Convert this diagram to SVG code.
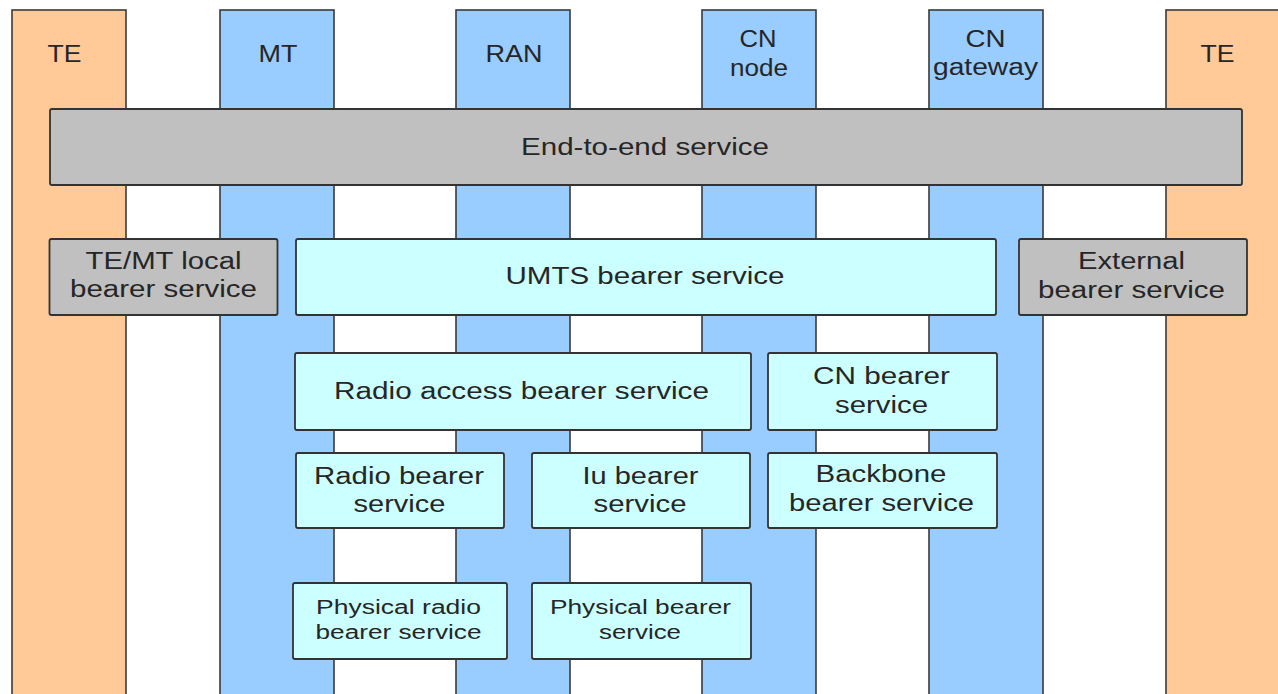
<svg xmlns="http://www.w3.org/2000/svg" width="1278" height="694" viewBox="0 0 1278 694">
  <style>
    .lane { stroke: #3a3a3a; stroke-width: 1.6; }
    .te { fill: #FFCA98; }
    .ne { fill: #99CCFF; }
    .box { stroke: #333333; stroke-width: 1.8; }
    .grey { fill: #C0C0C0; }
    .cyan { fill: #CCFFFF; }
    text { font-family: "Liberation Sans", Arial, sans-serif; fill: #262626; text-anchor: middle; }
    .hd { font-size: 23px; }
    .lb { font-size: 23px; }
    .sm { font-size: 20px; }
  </style>
  <rect width="1278" height="694" fill="#ffffff"/>

  <!-- network element lanes -->
  <g id="lane-te-left">
    <rect class="lane te" x="12" y="10" width="114" height="700"/>
    <text class="hd" x="64.5" y="62" textLength="34" lengthAdjust="spacingAndGlyphs">TE</text>
  </g>
  <g id="lane-mt">
    <rect class="lane ne" x="220" y="10" width="114" height="700"/>
    <text class="hd" x="278" y="62" textLength="39" lengthAdjust="spacingAndGlyphs">MT</text>
  </g>
  <g id="lane-ran">
    <rect class="lane ne" x="456" y="10" width="114" height="700"/>
    <text class="hd" x="514" y="62" textLength="57" lengthAdjust="spacingAndGlyphs">RAN</text>
  </g>
  <g id="lane-cn-node">
    <rect class="lane ne" x="702" y="10" width="114" height="700"/>
    <text class="hd" x="758" y="47" textLength="37" lengthAdjust="spacingAndGlyphs">CN</text>
    <text class="hd" x="759" y="76" textLength="58" lengthAdjust="spacingAndGlyphs">node</text>
  </g>
  <g id="lane-cn-gateway">
    <rect class="lane ne" x="929" y="10" width="114" height="700"/>
    <text class="hd" x="985.5" y="47" textLength="40" lengthAdjust="spacingAndGlyphs">CN</text>
    <text class="hd" x="985.5" y="75" textLength="105" lengthAdjust="spacingAndGlyphs">gateway</text>
  </g>
  <g id="lane-te-right">
    <rect class="lane te" x="1166" y="10" width="114" height="700"/>
    <text class="hd" x="1217.5" y="61.5" textLength="34" lengthAdjust="spacingAndGlyphs">TE</text>
  </g>

  <!-- bearer service layers -->
  <g id="end-to-end">
    <rect class="box grey" x="50" y="109" width="1192" height="76" rx="2"/>
    <text class="lb" x="645" y="154.5" textLength="248" lengthAdjust="spacingAndGlyphs">End-to-end service</text>
  </g>
  <g id="te-mt-local">
    <rect class="box grey" x="49.5" y="239" width="228" height="76" rx="2"/>
    <text class="lb" x="163.5" y="269" textLength="156" lengthAdjust="spacingAndGlyphs">TE/MT local</text>
    <text class="lb" x="163.5" y="297" textLength="187" lengthAdjust="spacingAndGlyphs">bearer service</text>
  </g>
  <g id="umts-bearer">
    <rect class="box cyan" x="296" y="239" width="700" height="76" rx="2"/>
    <text class="lb" x="645" y="283.5" textLength="279" lengthAdjust="spacingAndGlyphs">UMTS bearer service</text>
  </g>
  <g id="external-bearer">
    <rect class="box grey" x="1019" y="239" width="228" height="76" rx="2"/>
    <text class="lb" x="1131.5" y="268.5" textLength="107" lengthAdjust="spacingAndGlyphs">External</text>
    <text class="lb" x="1131.5" y="297.5" textLength="187" lengthAdjust="spacingAndGlyphs">bearer service</text>
  </g>
  <g id="radio-access-bearer">
    <rect class="box cyan" x="295" y="353" width="456" height="77" rx="2"/>
    <text class="lb" x="521.5" y="398.5" textLength="375" lengthAdjust="spacingAndGlyphs">Radio access bearer service</text>
  </g>
  <g id="cn-bearer">
    <rect class="box cyan" x="768" y="353" width="229" height="77" rx="2"/>
    <text class="lb" x="881.5" y="384" textLength="137" lengthAdjust="spacingAndGlyphs">CN bearer</text>
    <text class="lb" x="881.5" y="412.5" textLength="93" lengthAdjust="spacingAndGlyphs">service</text>
  </g>
  <g id="radio-bearer">
    <rect class="box cyan" x="296" y="453" width="208" height="75" rx="2"/>
    <text class="lb" x="399" y="483.5" textLength="170" lengthAdjust="spacingAndGlyphs">Radio bearer</text>
    <text class="lb" x="399.5" y="511.5" textLength="92" lengthAdjust="spacingAndGlyphs">service</text>
  </g>
  <g id="iu-bearer">
    <rect class="box cyan" x="532" y="453" width="218" height="75" rx="2"/>
    <text class="lb" x="640.5" y="483.5" textLength="116" lengthAdjust="spacingAndGlyphs">Iu bearer</text>
    <text class="lb" x="640" y="511.5" textLength="93" lengthAdjust="spacingAndGlyphs">service</text>
  </g>
  <g id="backbone-bearer">
    <rect class="box cyan" x="768" y="453" width="229" height="75" rx="2"/>
    <text class="lb" x="881" y="482" textLength="131" lengthAdjust="spacingAndGlyphs">Backbone</text>
    <text class="lb" x="881.5" y="511" textLength="185" lengthAdjust="spacingAndGlyphs">bearer service</text>
  </g>
  <g id="physical-radio-bearer">
    <rect class="box cyan" x="293" y="583" width="214" height="76" rx="2"/>
    <text class="sm" x="398.5" y="613.5" textLength="165" lengthAdjust="spacingAndGlyphs">Physical radio</text>
    <text class="sm" x="398.5" y="639" textLength="166" lengthAdjust="spacingAndGlyphs">bearer service</text>
  </g>
  <g id="physical-bearer">
    <rect class="box cyan" x="532" y="583" width="219" height="76" rx="2"/>
    <text class="sm" x="640.5" y="613.5" textLength="181" lengthAdjust="spacingAndGlyphs">Physical bearer</text>
    <text class="sm" x="640" y="639" textLength="82" lengthAdjust="spacingAndGlyphs">service</text>
  </g>
</svg>
